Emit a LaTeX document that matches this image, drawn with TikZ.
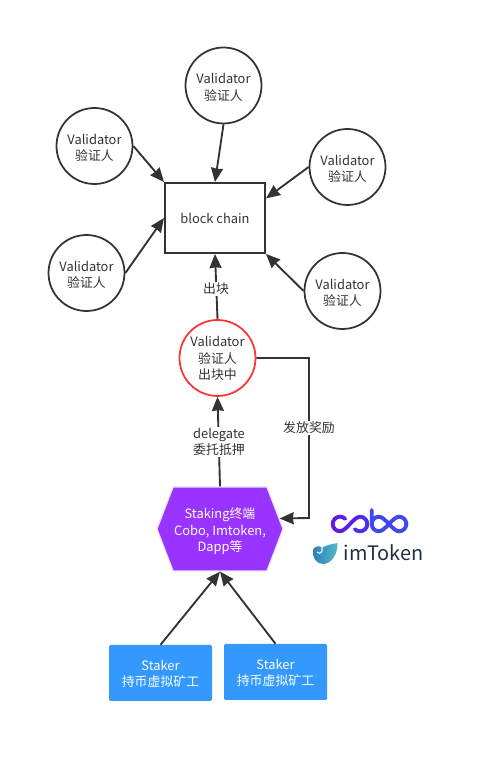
\documentclass[tikz,border=0pt]{standalone}
\usepackage{fontspec}
\setmainfont{Noto Sans CJK SC}
\usetikzlibrary{positioning,arrows.meta,shapes.symbols}
\definecolor{tinta}{HTML}{333333}
\definecolor{rojo}{HTML}{FF3333}
\definecolor{morado}{HTML}{9933FF}
\definecolor{azulbox}{HTML}{3399FF}
\definecolor{bordehex}{HTML}{E6E6E6}
\definecolor{cobouno}{HTML}{5C1EE6}
\definecolor{cobodos}{HTML}{4A30EC}
\definecolor{cobotres}{HTML}{3F46F2}
\definecolor{tokentxt}{HTML}{1E2F40}
\definecolor{tokenuno}{HTML}{2F7DB8}
\definecolor{tokendos}{HTML}{52BCC8}
\tikzset{
  validator/.style={circle, draw=tinta, line width=1.5pt, fill=white, minimum size=2.28cm, inner sep=0pt, align=center, text=tinta},
  stakerbox/.style={rectangle, rounded corners=1.2pt, fill=azulbox, minimum width=3.09cm, minimum height=1.68cm, inner sep=0pt, align=center, text=white},
  conn/.style={draw=tinta, line width=1.6pt, -{Stealth[length=4.2mm, width=3.6mm, inset=0.2mm]}},
  connlbl/.style={fill=white, inner sep=1pt, align=center, text=tinta},
  cobostroke/.style={line width=3.3pt, line cap=round}
}
% baja el texto de un nodo
\newcommand{\bajar}[1]{\rule{0pt}{#1}}

\begin{document}
\begin{tikzpicture}[font=\fontsize{11}{14}\selectfont]
  \useasboundingbox (0,0) rectangle (14.49,22.89);
  % cadena y validadores
  \node[rectangle, draw=tinta, line width=1.7pt, minimum width=3cm, minimum height=2.1cm, text=tinta] (chain) at (6.45,16.35) {block chain};
  \node[validator] (valT) at (6.705,20.325) {\bajar{12pt}Validator\\验证人};
  \node[validator] (valUL) at (2.835,18.51) {\bajar{12pt}Validator\\验证人};
  \node[validator] (valLL) at (2.595,14.7) {\bajar{12pt}Validator\\验证人};
  \node[validator] (valUR) at (10.425,17.88) {\bajar{12pt}Validator\\验证人};
  \node[validator] (valLR) at (10.275,14.16) {\bajar{12pt}Validator\\验证人};
  \node[validator, draw=rojo] (valRed) at (6.525,12.15) {\bajar{10pt}Validator\\验证人\\出块中};
  % staking y stakers
  \node[signal, signal to=east and west, signal pointer angle=138, draw=bordehex, line width=1pt, fill=morado, minimum width=3.78cm, minimum height=2.52cm, inner sep=0pt, align=center, text=white] (staking) at (6.6,7.02) {\bajar{13pt}Staking终端\\Cobo, Imtoken,\\Dapp等};
  \node[stakerbox] (stakerA) at (4.815,2.7) {\bajar{10pt}Staker\\持币虚拟矿工};
  \node[stakerbox] (stakerB) at (8.265,2.73) {\bajar{10pt}Staker\\持币虚拟矿工};
  % flechas
  \draw[conn] (valT.south) -- (chain.north);
  \draw[conn] (valUL.east) -- (chain.north west);
  \draw[conn] (valLL.east) -- (chain.west);
  \draw[conn] (valUR.west) -- (chain.21);
  \draw[conn] (valLR.west) -- (chain.south east);
  \draw[conn] (valRed.north) -- (chain.south);
  \draw[conn] (staking.north) -- (valRed.south);
  \draw[conn] (stakerA.north) -- (staking.south);
  \draw[conn] (stakerB.north) -- (staking.south);
  \coordinate (turnA) at (9.27,12.15);
  \coordinate (turnB) at (9.27,7.35);
  \draw[conn] (valRed.east) -- (turnA) -- (turnB) -- (staking.10);
  % etiquetas
  \node[connlbl] (lblOut) at (6.48,14.22) {出块};
  \node[connlbl] (lblDelegate) at (6.57,9.63) {delegate\\委托抵押};
  \node[connlbl] (lblReward) at (9.27,10.05) {发放奖励};
  % logos
  \begin{scope}[x=0.03cm, y=-0.03cm, shift={(0,-763)}]
    \draw[cobostroke, cobouno] (345.2,518.8) arc (-45:-270:7.3) .. controls (346,531.3) and (354,516.7) .. (360,516.7);
    \draw[cobostroke, cobodos] (360,516.7) arc (-90:135:7.3);
    \draw[cobostroke, cobotres] (371.7,510) -- (371.7,524) arc (180:90:7.3) .. controls (385,531.3) and (393,516.7) .. (399,516.7) arc (-90:90:7.3) .. controls (393,531.3) and (385,516.7) .. (379,516.7) arc (-90:-180:7.3);
    \shade[left color=tokenuno, right color=tokendos] (337.5,543) .. controls (338,553) and (332,564) .. (323,564) .. controls (316,564) and (312,557) .. (313,550) .. controls (314,546) and (320,545) .. (322,548) .. controls (324,546) and (331,544) .. (337.5,543) -- cycle;
    \draw[white, line width=0.9pt] (317,552) .. controls (320,555) and (323,552) .. (322,548);
    \node[text=tokentxt, font=\fontsize{17}{20}\selectfont, inner sep=0pt, anchor=center] (logoToken) at (383.5,553) {imToken};
  \end{scope}
\end{tikzpicture}
\end{document}
